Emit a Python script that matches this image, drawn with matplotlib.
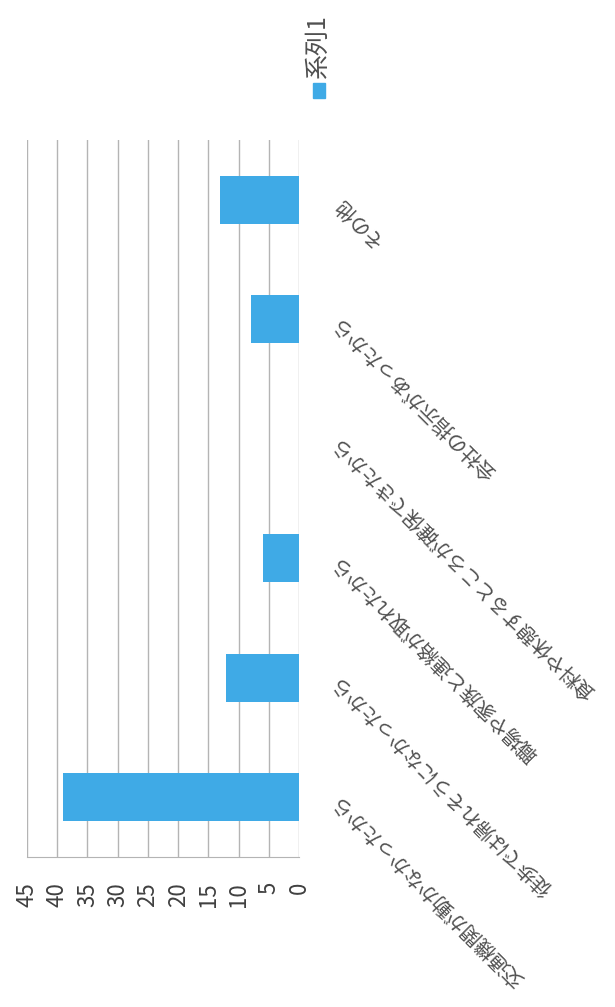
import matplotlib.pyplot as plt
from matplotlib.patches import Rectangle

plt.rcParams['font.family'] = ['Noto Sans CJK JP', 'DejaVu Sans']

# data (left to right in the original chart, here bottom to top)
categories = [
    "交通機関が動かなかったから",
    "徒歩では帰れそうになかったから",
    "職場や家族と連絡が取れたから",
    "食料や休憩するところが確保できたから",
    "会社の指示があったから",
    "その他",
]
values = [39, 12, 6, 0, 8, 13]
series_name = "系列1"
ticks = list(range(0, 50, 5))

bar_color = '#3FAAE6'
grid_color = '#b4b4b4'
text_color = '#505050'

W, H = 615, 1007
fig = plt.figure(figsize=(W / 100, H / 100), dpi=100)
ax = fig.add_axes([27 / W, 1 - 857 / H, 272 / W, 717 / H])

pos = list(range(len(categories)))
ax.barh(pos, values, height=0.4, color=bar_color, zorder=3)

ax.set_xlim(45, 0)
ax.set_ylim(-0.5, len(categories) - 0.5)
ax.set_xticks(ticks)
ax.set_xticklabels([str(t) for t in ticks])
ax.set_yticks([])
ax.tick_params(axis='x', length=0, pad=18, labelrotation=90,
               labelsize=16, labelcolor='#404040')
ax.grid(axis='x', color=grid_color, linewidth=1, zorder=0)
for s in ['top', 'left', 'right']:
    ax.spines[s].set_visible(False)
ax.spines['bottom'].set_color(grid_color)

# rotated category labels
for i, lab in enumerate(categories):
    ax.text(1.136, i, lab, transform=ax.get_yaxis_transform(),
            rotation=135, rotation_mode='anchor', ha='right', va='center',
            fontsize=14.5, color=text_color)

# legend (rotated)
fig.patches.append(Rectangle((313 / W, 1 - 98 / H), 12 / W, 15 / H,
                             transform=fig.transFigure, color=bar_color))
fig.text(318 / W, 1 - 79 / H, series_name, rotation=90,
         ha='center', va='bottom', fontsize=18, color=text_color)

fig.savefig("out.png", dpi=100)
